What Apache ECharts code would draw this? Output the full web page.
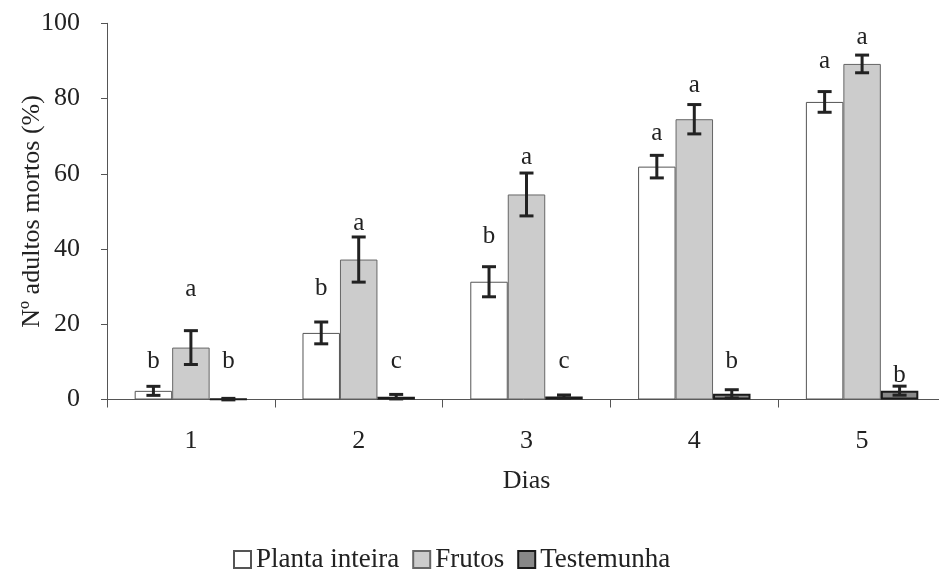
<!DOCTYPE html>
<html>
<head>
<meta charset="utf-8">
<script src="https://cdn.jsdelivr.net/npm/echarts@6/dist/echarts.min.js"></script>
<style>
  html, body { margin: 0; padding: 0; background: #fff; }
  #chart { width: 939px; height: 572px; }
</style>
</head>
<body>
<div id="chart"></div>
<script>
// dados
const days = ['1', '2', '3', '4', '5'];
const planta = [2.3, 17.7, 31.3, 61.9, 79.1];
const plantaErr = [1.2, 2.9, 4.0, 3.0, 2.75];
const frutos = [13.8, 37.2, 54.5, 74.5, 89.2];
const frutosErr = [4.5, 6.0, 5.7, 3.9, 2.35];
const testemunha = [0.1, 0.75, 0.8, 1.5, 2.35];
const testemunhaErr = [0.2, 0.6, 0.4, 1.1, 1.2];

// letras de significância e altura (em %) onde aparecem
const plantaLetters = ['b', 'b', 'b', 'a', 'a'];
const plantaLetterY = [10.1, 29.5, 43.4, 70.7, 89.9];
const frutosLetters = ['a', 'a', 'a', 'a', 'a'];
const frutosLetterY = [29.2, 46.7, 64.3, 83.6, 96.3];
const testemunhaLetters = ['b', 'c', 'c', 'b', 'b'];
const testemunhaLetterY = [10.1, 10.1, 10.1, 10.1, 6.5];

const yTicks = [0, 20, 40, 60, 80, 100];

const FONT = 'Liberation Serif';
const GAP = 0.33; // barCategoryGap

function slotOffset(api, k) {
  const band = api.size([1, 0])[0];
  const w = band * (1 - GAP) / 3;
  return (k - 1) * w;
}

function errorSeries(vals, errs, k) {
  return {
    type: 'custom',
    z: 4,
    silent: true,
    data: vals.map((v, i) => [i, v - errs[i], v + errs[i]]),
    encode: { x: 0, y: [1, 2] },
    renderItem: function (params, api) {
      const off = slotOffset(api, k);
      const lo = api.coord([api.value(0), api.value(1)]);
      const hi = api.coord([api.value(0), api.value(2)]);
      const x = lo[0] + off;
      const cap = 7;
      const st = { stroke: '#222', lineWidth: 3 };
      return {
        type: 'group',
        children: [
          { type: 'line', shape: { x1: x, y1: lo[1], x2: x, y2: hi[1] }, style: st },
          { type: 'line', shape: { x1: x - cap, y1: lo[1], x2: x + cap, y2: lo[1] }, style: st },
          { type: 'line', shape: { x1: x - cap, y1: hi[1], x2: x + cap, y2: hi[1] }, style: st }
        ]
      };
    }
  };
}

function letterSeries(letters, ys, k) {
  return {
    type: 'custom',
    z: 5,
    silent: true,
    data: ys.map((y, i) => [i, y]),
    encode: { x: 0, y: 1 },
    renderItem: function (params, api) {
      const off = slotOffset(api, k);
      const p = api.coord([api.value(0), api.value(1)]);
      return {
        type: 'text',
        style: {
          x: p[0] + off,
          y: p[1],
          text: letters[params.dataIndex],
          textAlign: 'center',
          textVerticalAlign: 'middle',
          fontFamily: FONT,
          fontSize: 25,
          fill: '#222'
        }
      };
    }
  };
}

const chart = echarts.init(document.getElementById('chart'));
chart.setOption({
  animation: false,
  textStyle: { fontFamily: FONT, color: '#222' },
  grid: { left: 107, right: -7, top: 23.3, bottom: 172.5, outerBoundsMode: 'none' },
  legend: {
    left: 233,
    top: 546,
    icon: 'rect',
    itemWidth: 17,
    itemHeight: 17,
    itemGap: 13,
    padding: 0,
    textStyle: { fontFamily: FONT, fontSize: 27, color: '#222' },
    data: ['Planta inteira', 'Frutos', 'Testemunha']
  },
  xAxis: {
    type: 'category',
    data: days,
    name: 'Dias',
    nameLocation: 'middle',
    nameGap: 69,
    nameMoveOverlap: false,
    nameTextStyle: { fontFamily: FONT, fontSize: 26, color: '#222' },
    axisLine: { lineStyle: { color: '#555', width: 1 } },
    axisTick: { show: true, length: 8, lineStyle: { color: '#555' } },
    axisLabel: { fontFamily: FONT, fontSize: 26, color: '#222', margin: 29 }
  },
  yAxis: {
    type: 'value',
    min: 0,
    max: 100,
    interval: 20,
    name: 'Nº adultos mortos (%)',
    nameLocation: 'middle',
    nameGap: 62,
    nameMoveOverlap: false,
    nameTextStyle: { fontFamily: FONT, fontSize: 26, color: '#222' },
    splitLine: { show: false },
    axisLine: { show: true, lineStyle: { color: '#555', width: 1 } },
    axisTick: { show: true, length: 6, lineStyle: { color: '#555' } },
    axisLabel: {
      fontFamily: FONT, fontSize: 26, color: '#222', margin: 27,
      formatter: v => (yTicks.indexOf(v) >= 0 ? String(v) : '')
    }
  },
  series: [
    {
      name: 'Planta inteira', type: 'bar', data: planta,
      barGap: '0%', barCategoryGap: '33%',
      itemStyle: { color: '#ffffff', borderColor: '#555', borderWidth: 1 }
    },
    {
      name: 'Frutos', type: 'bar', data: frutos,
      barGap: '0%', barCategoryGap: '33%',
      itemStyle: { color: '#cccccc', borderColor: '#666', borderWidth: 1 }
    },
    {
      name: 'Testemunha', type: 'bar', data: testemunha,
      barGap: '0%', barCategoryGap: '33%',
      itemStyle: { color: '#888888', borderColor: '#1a1a1a', borderWidth: 2 }
    },
    errorSeries(planta, plantaErr, 0),
    errorSeries(frutos, frutosErr, 1),
    errorSeries(testemunha, testemunhaErr, 2),
    letterSeries(plantaLetters, plantaLetterY, 0),
    letterSeries(frutosLetters, frutosLetterY, 1),
    letterSeries(testemunhaLetters, testemunhaLetterY, 2)
  ]
});
</script>
</body>
</html>
